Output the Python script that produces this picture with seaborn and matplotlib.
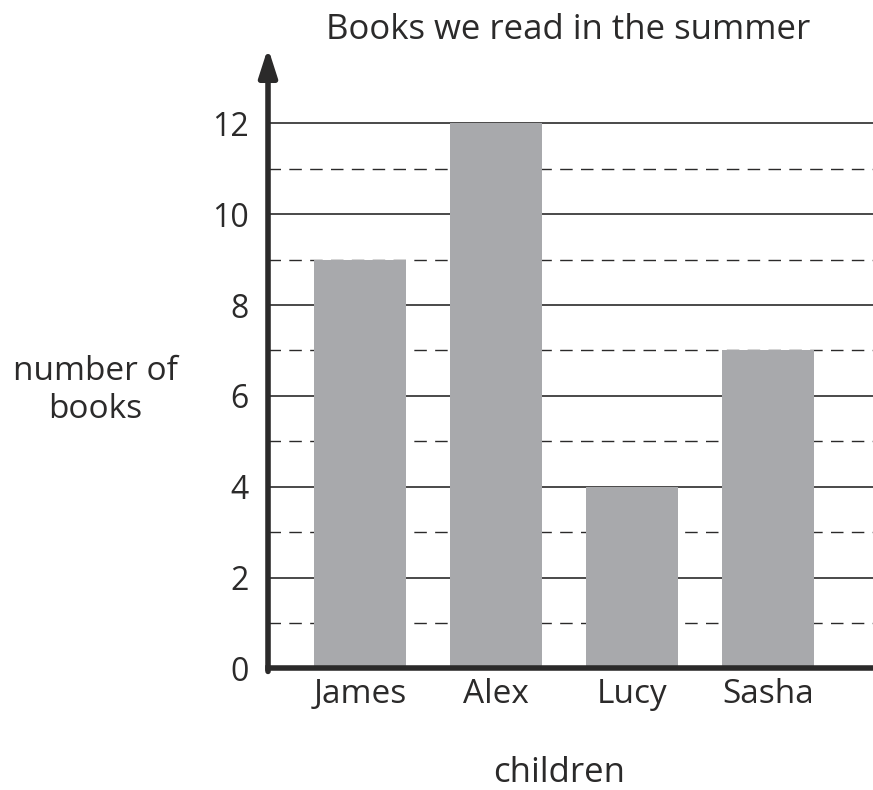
#!/usr/bin/env python3

import seaborn as sns
import matplotlib.pyplot as plt
import pandas as pd

children = ["James", "Alex", "Lucy", "Sasha"]
books = [9, 12, 4, 7]
major_ticks = [0, 2, 4, 6, 8, 10, 12]
minor_lines = [1, 3, 5, 7, 9, 11]

ink = "#2b2a2a"
bar_grey = "#a8a9ac"

df = pd.DataFrame({"children": children, "books": books})

sns.set_theme(style="white")
plt.rcParams['font.family'] = ['Open Sans', 'DejaVu Sans']

fig = plt.figure(figsize=(8.73, 7.9), dpi=100)
ax = fig.add_axes([0.307, 0.154, 0.693, 0.78])

# grid first so bars sit on top
for v in major_ticks[1:]:
    ax.axhline(v, color=ink, lw=1.2, zorder=1)
for v in minor_lines:
    ax.axhline(v, color=ink, lw=1.0, ls=(0, (9, 6)), zorder=1)

sns.barplot(data=df, x="children", y="books", color=bar_grey, width=0.68,
            saturation=1, linewidth=0, ax=ax, zorder=2)

ax.set_xlim(-0.676, 3.77)
ax.set_ylim(0, 13.57)
ax.set_yticks(major_ticks)
ax.tick_params(axis='y', direction='out', length=8, width=4, color=ink,
               labelsize=23, labelcolor=ink, pad=6)
ax.tick_params(axis='x', length=0, labelsize=24, labelcolor=ink, pad=7)

for s in ["top", "right"]:
    ax.spines[s].set_visible(False)
ax.spines["left"].set_visible(False)
ax.spines["bottom"].set_linewidth(4)
ax.spines["bottom"].set_color(ink)
ax.spines["bottom"].set_zorder(5)

# y axis with arrow head
ax.annotate('', xy=(0, 1.007), xycoords='axes fraction', xytext=(0, -0.005),
            arrowprops=dict(arrowstyle='-|>,head_length=1.4,head_width=0.45',
                            lw=4, color=ink, shrinkA=0, shrinkB=0),
            annotation_clip=False, zorder=6)

ax.set_xlabel("")
ax.set_ylabel("")
fig.text(0.651, 0.962, "Books we read in the summer", ha='center', va='center',
         fontsize=25, color=ink)
fig.text(0.641, 0.022, "children", ha='center', va='center', fontsize=25, color=ink)
fig.text(0.109, 0.506, "number of\nbooks", ha='center', va='center', fontsize=24,
         color=ink, linespacing=1.2)

plt.savefig("out.png", dpi=100)
plt.close()
